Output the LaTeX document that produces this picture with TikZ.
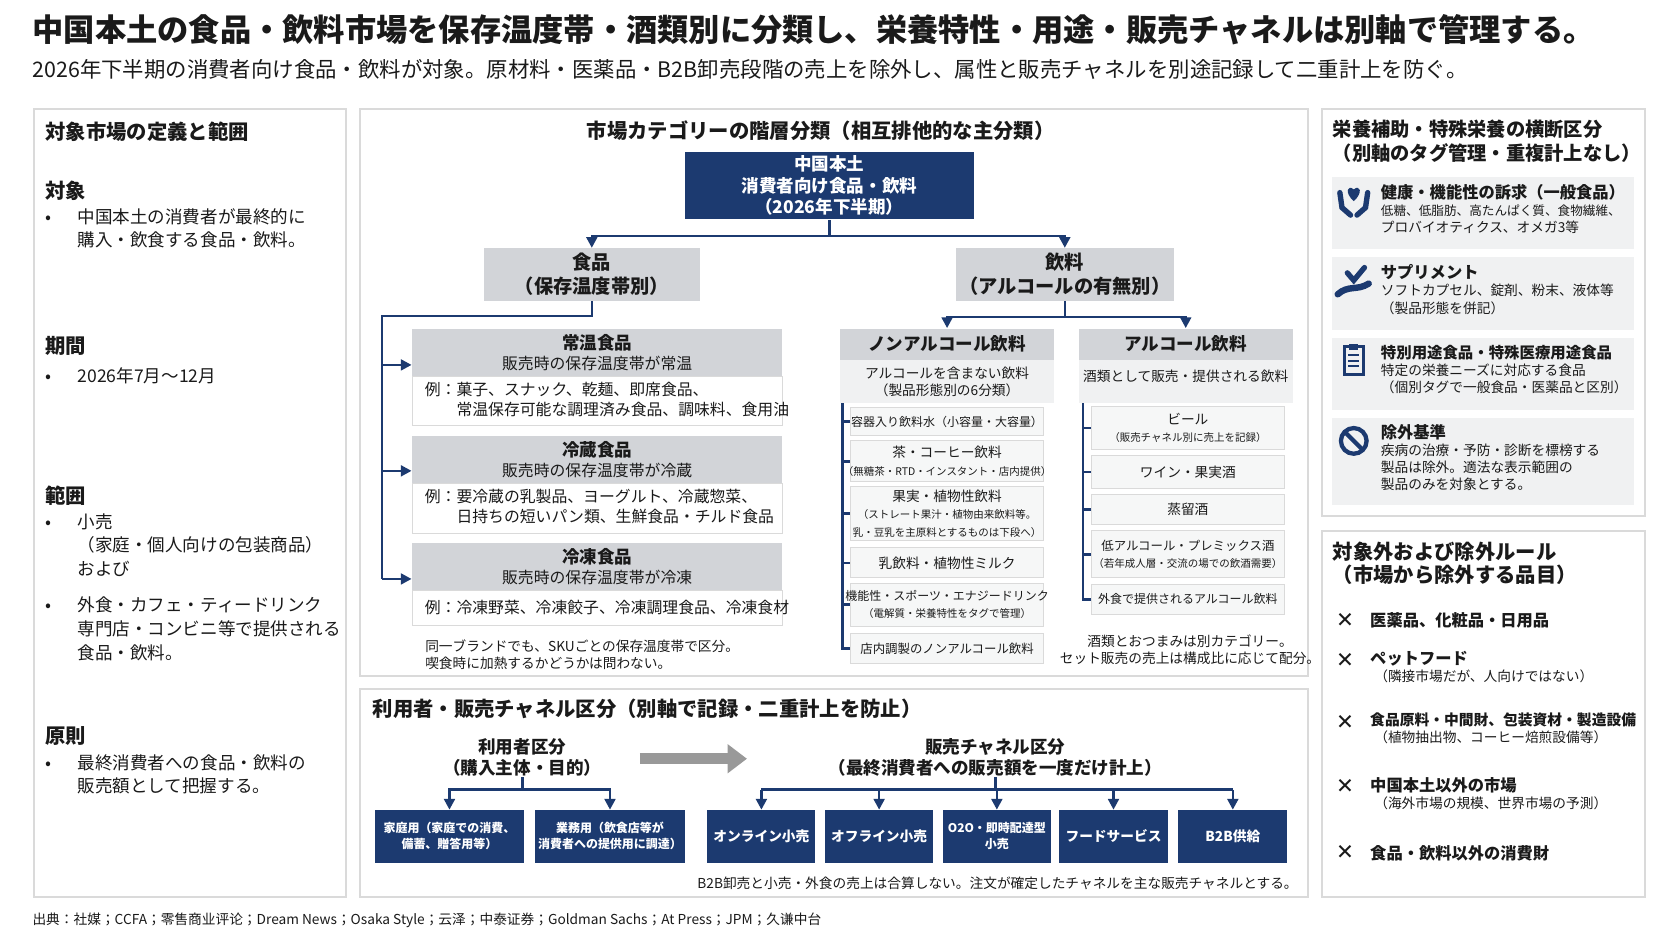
\documentclass[tikz,border=0pt]{standalone}
\usepackage{fontspec}
\setmainfont{Noto Sans CJK JP}
\newfontfamily\dejavu{DejaVu Sans}
\usepackage{tikz}
\usetikzlibrary{arrows.meta,fit,positioning}
\definecolor{navy}{HTML}{1C3A70}
\definecolor{hdrgray}{HTML}{D2D4D8}
\definecolor{cardgray}{HTML}{F0F1F2}
\definecolor{panelline}{HTML}{DADADA}
\definecolor{txt}{HTML}{1A1A1A}
\newcommand\fb{\fontsize{8.2}{10}\selectfont\bfseries}
\newcommand\fbs{\fontsize{7.6}{9.5}\selectfont\bfseries}
\newcommand\fn{\fontsize{7.4}{9.6}\selectfont}
\newcommand\fs{\fontsize{6.4}{8}\selectfont}
\newcommand\fss{\fontsize{4.9}{6.2}\selectfont}
\tikzset{
  panel/.style={draw=panelline,line width=1pt,fill=white},
  navybox/.style={draw=none,fill=navy,inner sep=0pt},
  hdr/.style={draw=none,fill=hdrgray,inner sep=0pt},
  subhdr/.style={draw=none,fill=cardgray,inner sep=0pt},
  item/.style={draw=panelline,fill=cardgray!60,inner sep=0pt},
  body/.style={draw=panelline,fill=white,inner sep=0pt},
  card/.style={draw=none,fill=cardgray,inner sep=0pt},
  link/.style={navy,line width=1.2pt},
  arr/.style={link,-{Triangle[width=5pt,length=5pt]}},
  ptitle/.style={font=\fontsize{9.5}{11}\selectfont\bfseries,text=txt,anchor=west,inner sep=0pt},
  txtl/.style={font=\fontsize{8.2}{11}\selectfont,text=txt,anchor=west,inner sep=0pt,align=left},
  lbl/.style 2 args={label={[align=center,font=#1,text=txt,inner sep=0pt]center:{#2}}},
  wlbl/.style 2 args={label={[align=center,font=#1\bfseries,text=white,inner sep=0pt]center:{#2}}},
  llbl/.style={label={[align=left,font=\fn,text=txt,inner sep=0pt,anchor=west]west:{#1}}},
}
\begin{document}
\begin{tikzpicture}[x=0.5pt,y=-0.5pt]
\useasboundingbox (0,0) rectangle (1568,876);
\fill[white] (0,0) rectangle (1568,876);

% --- title ---
\node[anchor=west,inner sep=0pt,font=\fontsize{14.6}{16}\selectfont\bfseries,text=txt] (title) at (30,28)
  {中国本土の食品・飲料市場を保存温度帯・酒類別に分類し、栄養特性・用途・販売チャネルは別軸で管理する。};
\node[anchor=west,inner sep=0pt,font=\fontsize{10}{11}\selectfont,text=txt] (subtitle) at (30,65)
  {2026年下半期の消費者向け食品・飲料が対象。原材料・医薬品・B2B卸売段階の売上を除外し、属性と販売チャネルを別途記録して二重計上を防ぐ。};

% --- panels ---
\draw[panel] (32,102) rectangle (323,838);
\draw[panel] (336,102) rectangle (1222,632);
\draw[panel] (336,644) rectangle (1222,838);
\draw[panel] (1235,102) rectangle (1537,482);
\draw[panel] (1235,496) rectangle (1537,838);

% --- left panel ---
\node[ptitle] (lt) at (42,123) {対象市場の定義と範囲};
\node[ptitle] (l1) at (42,178) {対象};
\node[txtl,anchor=north west] (l1a) at (42,193) {•\hspace{1.5em}\begin{tabular}[t]{@{}l@{}}中国本土の消費者が最終的に\\購入・飲食する食品・飲料。\end{tabular}};
\node[ptitle] (l2) at (42,323) {期間};
\node[txtl] (l2a) at (42,351) {•\hspace{1.5em}2026年7月～12月};
\node[ptitle] (l3) at (42,463) {範囲};
\node[txtl,anchor=north west] (l3a) at (42,478) {•\hspace{1.5em}\begin{tabular}[t]{@{}l@{}}小売\\（家庭・個人向けの包装商品）\\および\end{tabular}};
\node[txtl,anchor=north west] (l3b) at (42,556) {•\hspace{1.5em}\begin{tabular}[t]{@{}l@{}}外食・カフェ・ティードリンク\\専門店・コンビニ等で提供される\\食品・飲料。\end{tabular}};
\node[ptitle] (l4) at (42,688) {原則};
\node[txtl,anchor=north west] (l4a) at (42,703) {•\hspace{1.5em}\begin{tabular}[t]{@{}l@{}}最終消費者への食品・飲料の\\販売額として把握する。\end{tabular}};

% --- hierarchy ---
\node[ptitle,anchor=center] (mt) at (767,122) {市場カテゴリーの階層分類（相互排他的な主分類）};
\node[navybox,fit={(640,142)(910,205)},wlbl={\fb}{中国本土\\消費者向け食品・飲料\\（2026年下半期）}] (root) {};
\node[hdr,fit={(452,232)(654,281)},lbl={\fontsize{9}{11}\selectfont\bfseries}{食品\\（保存温度帯別）}] (food) {};
\node[hdr,fit={(893,232)(1097,281)},lbl={\fontsize{9}{11}\selectfont\bfseries}{飲料\\（アルコールの有無別）}] (drink) {};
\draw[link] (root.south) -- ++(0,15) coordinate (rj);
\draw[arr] (rj) -| (food.north);
\draw[arr] (rj) -| (drink.north);

% food branches
\node[hdr,fit={(385,307)(731,352)},lbl={\fn}{{\fb 常温食品}\\販売時の保存温度帯が常温}] (amb) {};
\node[body,fit={(385,352)(731,398)},llbl={\hspace{6pt}例：\begin{tabular}[t]{@{}l@{}}菓子、スナック、乾麺、即席食品、\\常温保存可能な調理済み食品、調味料、食用油\end{tabular}}] (ambx) {};
\node[hdr,fit={(385,407)(731,452)},lbl={\fn}{{\fb 冷蔵食品}\\販売時の保存温度帯が冷蔵}] (chl) {};
\node[body,fit={(385,452)(731,498)},llbl={\hspace{6pt}例：\begin{tabular}[t]{@{}l@{}}要冷蔵の乳製品、ヨーグルト、冷蔵惣菜、\\日持ちの短いパン類、生鮮食品・チルド食品\end{tabular}}] (chlx) {};
\node[hdr,fit={(385,507)(731,552)},lbl={\fn}{{\fb 冷凍食品}\\販売時の保存温度帯が冷凍}] (frz) {};
\node[body,fit={(385,552)(731,584)},llbl={\hspace{6pt}例：冷凍野菜、冷凍餃子、冷凍調理食品、冷凍食材}] (frzx) {};
\draw[link] (food.south) -- ++(0,14) -| (357,541) coordinate (fj);
\draw[arr] (357,341) -- (amb.west|-0,341);
\draw[arr] (357,440) -- (chl.west|-0,440);
\draw[arr] (fj) -- (frz.west|-0,541);
\node[txtl,font=\fs] (fnote) at (397,612) {同一ブランドでも、SKUごとの保存温度帯で区分。\\喫食時に加熱するかどうかは問わない。};

% drink branches
\node[hdr,fit={(785,307)(985,336)},lbl={\fb}{ノンアルコール飲料}] (na) {};
\node[subhdr,fit={(785,336)(985,377)},lbl={\fs}{アルコールを含まない飲料\\（製品形態別の6分類）}] (nasub) {};
\node[hdr,fit={(1008,307)(1208,336)},lbl={\fb}{アルコール飲料}] (al) {};
\node[subhdr,fit={(1008,336)(1208,377)}] (alsub) {};
\node[font=\fs,text=txt,inner sep=0pt] (alsubt) at (1108,352) {酒類として販売・提供される飲料};
\draw[link] (drink.south) -- ++(0,15) coordinate (dj);
\draw[arr] (dj) -| (na.north);
\draw[arr] (dj) -| (al.north);

\node[item,fit={(795,381)(975,407)},lbl={\fss}{\fontsize{5.6}{7}\selectfont 容器入り飲料水（小容量・大容量）}] (n1) {};
\node[item,fit={(795,412)(975,450)},lbl={\fs}{茶・コーヒー飲料\\{\fss（無糖茶・RTD・インスタント・店内提供）}}] (n2) {};
\node[item,fit={(795,455)(975,505)},lbl={\fs}{果実・植物性飲料\\{\fss（ストレート果汁・植物由来飲料等。}\\{\fss 乳・豆乳を主原料とするものは下段へ）}}] (n3) {};
\node[item,fit={(795,512)(975,540)},lbl={\fs}{乳飲料・植物性ミルク}] (n4) {};
\node[item,fit={(795,545)(975,585)},lbl={\fs}{{\fontsize{5.6}{7}\selectfont 機能性・スポーツ・エナジードリンク}\\{\fss（電解質・栄養特性をタグで管理）}}] (n5) {};
\node[item,fit={(795,592)(975,620)},lbl={\fs}{\fontsize{5.8}{7}\selectfont 店内調製のノンアルコール飲料}] (n6) {};
\draw[link] (787,377) -- (787,606) -- (n6.west);
\foreach \n in {n1,n2,n3,n4,n5} \draw[link] (787,0|-\n.west) -- (\n.west);

\node[item,fit={(1020,380)(1200,420)},lbl={\fs}{ビール\\{\fss（販売チャネル別に売上を記録）}}] (a1) {};
\node[item,fit={(1020,426)(1200,456)},lbl={\fs}{ワイン・果実酒}] (a2) {};
\node[item,fit={(1020,462)(1200,490)},lbl={\fs}{蒸留酒}] (a3) {};
\node[item,fit={(1020,496)(1200,540)},lbl={\fs}{{\fontsize{5.8}{7}\selectfont 低アルコール・プレミックス酒}\\{\fss（若年成人層・交流の場での飲酒需要）}}] (a4) {};
\node[item,fit={(1020,546)(1200,574)},lbl={\fs}{\fontsize{5.6}{7}\selectfont 外食で提供されるアルコール飲料}] (a5) {};
\draw[link] (1012,377) -- (1012,560) -- (a5.west);
\foreach \n in {a1,a2,a3,a4} \draw[link] (1012,0|-\n.west) -- (\n.west);
\node[font=\fs,text=txt,align=center,inner sep=0pt] (anote) at (1112,607) {酒類とおつまみは別カテゴリー。\\セット販売の売上は構成比に応じて配分。};

% --- channels ---
\node[ptitle] (ct) at (348,662) {利用者・販売チャネル区分（別軸で記録・二重計上を防止）};
\node[font=\fb,text=txt,align=center,inner sep=0pt] (uh) at (488,708) {利用者区分\\（購入主体・目的）};
\node[font=\fb,text=txt,align=center,inner sep=0pt] (sh) at (930,708) {販売チャネル区分\\（最終消費者への販売額を一度だけ計上）};
\draw[gray!80,line width=5pt,-{Triangle[width=13pt,length=9pt]}] (598,709) -- (698,709);
\node[navybox,fit={(350,757)(490,806)},wlbl={\fontsize{5.6}{7.5}\selectfont}{家庭用（家庭での消費、\\備蓄、贈答用等）}] (u1) {};
\node[navybox,fit={(500,757)(640,806)},wlbl={\fontsize{5.6}{7.5}\selectfont}{業務用（飲食店等が\\消費者への提供用に調達）}] (u2) {};
\draw[link] (uh.south) -- (488,738) coordinate (uj);
\draw[arr] (uj) -| (u1.north);
\draw[arr] (uj) -| (u2.north);
\node[navybox,fit={(661,757)(762,806)},wlbl={\fs}{オンライン小売}] (s1) {};
\node[navybox,fit={(771,757)(872,806)},wlbl={\fs}{オフライン小売}] (s2) {};
\node[navybox,fit={(881,757)(982,806)},wlbl={\fontsize{5.6}{7.5}\selectfont}{O2O・即時配達型\\小売}] (s3) {};
\node[navybox,fit={(990,757)(1091,806)},wlbl={\fs}{フードサービス}] (s4) {};
\node[navybox,fit={(1101,757)(1203,806)},wlbl={\fs}{B2B供給}] (s5) {};
\draw[link] (sh.south) -- (930,738) coordinate (sj);
\draw[link] (s1.north|-sj) -- (s5.north|-sj);
\foreach \n in {s1,s2,s3,s4,s5} \draw[arr] (\n.north|-sj) -- (\n.north);
\node[anchor=east,font=\fs,text=txt,inner sep=0pt] (cnote) at (1213,825) {B2B卸売と小売・外食の売上は合算しない。注文が確定したチャネルを主な販売チャネルとする。};

% --- right top ---
\node[ptitle,font=\fontsize{9}{11}\selectfont\bfseries,align=left,anchor=north west] (rt) at (1245,112) {栄養補助・特殊栄養の横断区分\\（別軸のタグ管理・重複計上なし）};
\node[card,fit={(1245,165)(1527,233)}] (c1) {};
\node[card,fit={(1245,240)(1527,308)}] (c2) {};
\node[card,fit={(1245,316)(1527,383)}] (c3) {};
\node[card,fit={(1245,391)(1527,472)}] (c4) {};
\node[txtl,anchor=north west,font=\fs] (c1t) at (1290,172) {{\fbs 健康・機能性の訴求（一般食品）}\\{\fontsize{5.9}{8}\selectfont 低糖、低脂肪、高たんぱく質、食物繊維、}\\プロバイオティクス、オメガ3等};
\node[txtl,anchor=north west,font=\fs] (c2t) at (1290,247) {{\fbs サプリメント}\\ソフトカプセル、錠剤、粉末、液体等\\（製品形態を併記）};
\node[txtl,anchor=north west,font=\fs] (c3t) at (1290,322) {{\fontsize{7.2}{9.5}\selectfont\bfseries 特別用途食品・特殊医療用途食品}\\特定の栄養ニーズに対応する食品\\（個別タグで一般食品・医薬品と区別）};
\node[txtl,anchor=north west,font=\fs] (c4t) at (1290,396) {{\fbs 除外基準}\\疾病の治療・予防・診断を標榜する\\製品は除外。適法な表示範囲の\\製品のみを対象とする。};
% icons
\fill[navy] (1265,188) .. controls (1256,180) and (1259,172) .. (1265,177) .. controls (1271,172) and (1274,180) .. (1265,188);
\draw[navy,line width=2.5pt,line cap=round] (1252,180) -- (1254,194) -- (1262,201);
\draw[navy,line width=2.5pt,line cap=round] (1278,180) -- (1276,194) -- (1268,201);
\draw[navy,line width=2.5pt,line cap=round] (1259,255) -- (1265,262) -- (1275,250);
\draw[navy,line width=3pt,line cap=round] (1250,275) .. controls (1260,266) and (1268,272) .. (1279,265);
\draw[navy,line width=1.5pt] (1256,324) rectangle (1274,350);
\fill[navy] (1261,321) rectangle (1269,327);
\foreach \yy in {332,337,342} \draw[navy,line width=1pt] (1260,\yy) -- (1270,\yy);
\draw[navy,line width=2pt] (1265,412) circle (12);
\draw[navy,line width=2pt] (1256.5,403.5) -- (1273.5,420.5);

% --- right bottom ---
\node[ptitle,align=left,anchor=north west] (rb) at (1245,506) {対象外および除外ルール\\（市場から除外する品目）};
\foreach \yy/\nm in {580/x1,617/x2,675/x3,735/x4,797/x5}
  \node[font=\dejavu\fontsize{10}{10}\selectfont,text=txt,inner sep=0pt] (\nm) at (1257,\yy) {✕};
\node[txtl,font=\fbs] (x1t) at (1280,580) {医薬品、化粧品・日用品};
\node[txtl,font=\fs,anchor=north west] (x2t) at (1280,608) {{\fbs ペットフード}\\\hspace{0.3em}（隣接市場だが、人向けではない）};
\node[txtl,font=\fs,anchor=north west] (x3t) at (1280,666) {{\fontsize{6.9}{9.5}\selectfont\bfseries 食品原料・中間財、包装資材・製造設備}\\\hspace{0.3em}（植物抽出物、コーヒー焙煎設備等）};
\node[txtl,font=\fs,anchor=north west] (x4t) at (1280,726) {{\fbs 中国本土以外の市場}\\\hspace{0.3em}（海外市場の規模、世界市場の予測）};
\node[txtl,font=\fbs] (x5t) at (1280,797) {食品・飲料以外の消費財};

% --- source ---
\node[txtl,font=\fs] (src) at (30,860) {出典：社媒；CCFA；零售商业评论；Dream News；Osaka Style；云泽；中泰证券；Goldman Sachs；At Press；JPM；久谦中台};
\end{tikzpicture}
\end{document}
